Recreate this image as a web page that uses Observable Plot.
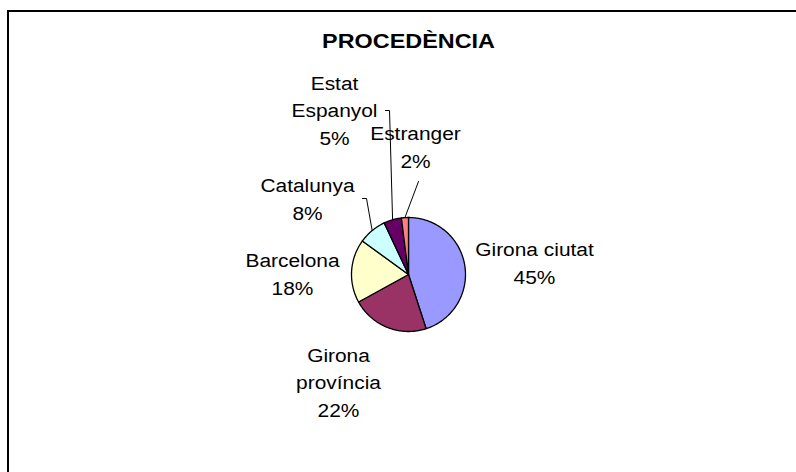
<!DOCTYPE html>
<html>
<head>
<meta charset="utf-8">
<script src="https://cdn.jsdelivr.net/npm/d3@7"></script>
<script src="https://cdn.jsdelivr.net/npm/@observablehq/plot@0.6"></script>
<style>
  html, body { margin: 0; padding: 0; background: #fff; }
  #wrap { position: relative; width: 796px; height: 472px; overflow: hidden; }
  #frame { position: absolute; left: 7px; top: 10px; width: 800px; height: 470px;
           border-left: 2px solid #000; border-top: 2px solid #000; box-sizing: border-box; pointer-events: none; }
  #chart { position: absolute; left: 0; top: 0; }
</style>
</head>
<body>
<div id="wrap"><div id="chart"></div><div id="frame"></div></div>
<script>
// ---- data ----
const title = "PROCEDÈNCIA";
const categories = ["Girona ciutat", "Girona província", "Barcelona", "Catalunya", "Estat Espanyol", "Estranger"];
const labelLines = ["Girona ciutat", "Girona\nprovíncia", "Barcelona", "Catalunya", "Estat\nEspanyol", "Estranger"];
const values = [45, 22, 18, 8, 5, 2];
const colors = ["#9999FF", "#993366", "#FFFFCC", "#CCFFFF", "#660066", "#FF8080"];

// ---- layout (pixels) ----
const W = 796, H = 472;
const cx = 408, cy = 274, r = 57;
const labelPos = [[534, 261], [338, 380], [292, 272], [307, 197], [334, 108], [415, 145]];
const leaderElbows = [null, null, null, [[366, 198], [362, 198]], [[389, 110], [385, 110]], [[418, 181]]];

// ---- geometry from data ----
const arcs = d3.pie().sort(null).value(d => d)(values);
const slicePts = [];
arcs.forEach((a, i) => {
  slicePts.push({name: categories[i], x: cx, y: cy});
  const n = Math.max(4, Math.ceil((a.endAngle - a.startAngle) / 0.02));
  for (let k = 0; k <= n; k++) {
    const t = a.startAngle + (a.endAngle - a.startAngle) * k / n;
    slicePts.push({name: categories[i], x: cx + r * Math.sin(t), y: cy - r * Math.cos(t)});
  }
});

const labels = categories.map((c, i) => ({
  name: c,
  text: labelLines[i] + "\n" + values[i] + "%",
  x: labelPos[i][0], y: labelPos[i][1]
}));

const leaders = [];
arcs.forEach((a, i) => {
  if (!leaderElbows[i]) return;
  const m = (a.startAngle + a.endAngle) / 2;
  leaders.push({name: categories[i], x: cx + r * Math.sin(m), y: cy - r * Math.cos(m)});
  leaderElbows[i].forEach(p => leaders.push({name: categories[i], x: p[0], y: p[1]}));
});

const plot = Plot.plot({
  width: W, height: H,
  margin: 0,
  x: {domain: [0, W], range: [0, W], axis: null},
  y: {domain: [0, H], range: [0, H], axis: null},
  color: {domain: categories, range: colors},
  style: {fontFamily: "'Liberation Sans', Arial, sans-serif", background: "white"},
  marks: [
    Plot.line(slicePts, {x: "x", y: "y", z: "name", fill: "name", stroke: "#000", strokeWidth: 1.3, curve: "linear-closed", strokeLinejoin: "round"}),
    Plot.line(leaders, {x: "x", y: "y", z: "name", stroke: "#000", strokeWidth: 1}),
    Plot.text(labels, {x: "x", y: "y", text: "text", fontSize: 19, lineHeight: 1.47, fill: "#000", textAnchor: "middle", className: "lbl"}),
    Plot.text([title], {x: () => 408, y: () => 41, text: d => d, fontSize: 20, fontWeight: "bold", fill: "#000", className: "ttl"})
  ]
});

// widen text horizontally like the reference
d3.select(plot).selectAll("text").each(function() {
  const t = this.getAttribute("transform");
  const isTitle = this.closest(".ttl") !== null;
  const s = isTitle ? 1.17 : 1.1;
  if (t) this.setAttribute("transform", t + ` scale(${s},1)`);
});

document.getElementById("chart").appendChild(plot);
</script>
</body>
</html>
